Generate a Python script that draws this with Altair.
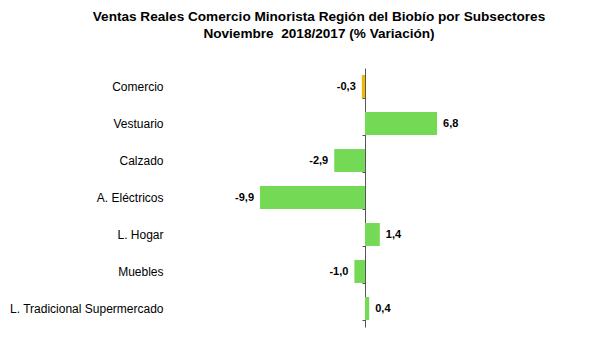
import altair as alt
import pandas as pd

categories = ["Comercio", "Vestuario", "Calzado", "A. Eléctricos", "L. Hogar", "Muebles", "L. Tradicional Supermercado"]
values = [-0.3, 6.8, -2.9, -9.9, 1.4, -1.0, 0.4]
colors = ["#F2B705", "#74DA56", "#74DA56", "#74DA56", "#74DA56", "#74DA56", "#74DA56"]

df = pd.DataFrame({
    "cat": categories,
    "val": values,
    "color": colors,
    "label": [f"{v:.1f}".replace(".", ",") for v in values],
})

FONT = "Liberation Sans"
x_scale = alt.Scale(domain=[-25, 12.74], nice=False, zero=False)
y_enc = alt.Y(
    "cat:N",
    sort=categories,
    scale=alt.Scale(paddingInner=0.38, paddingOuter=0.19),
    axis=alt.Axis(
        title=None,
        offset=-265,
        tickBand="extent",
        tickSize=3,
        tickColor="#555555",
        domainColor="#555555",
        labelPadding=199,
        labelAlign="right",
        labelFont=FONT,
        labelFontSize=12,
        labelColor="black",
        grid=False,
    ),
)

base = alt.Chart(df)

bars = base.mark_bar().encode(
    x=alt.X("val:Q", scale=x_scale, axis=None),
    y=y_enc,
    color=alt.Color("color:N", scale=None),
)

pos_text = base.transform_filter("datum.val >= 0").mark_text(
    align="left", dx=6, font=FONT, fontSize=11, fontWeight="bold", color="black"
).encode(x=alt.X("val:Q", scale=x_scale, axis=None), y=alt.Y("cat:N", sort=categories), text="label:N")

neg_text = base.transform_filter("datum.val < 0").mark_text(
    align="right", dx=-6, font=FONT, fontSize=11, fontWeight="bold", color="black"
).encode(x=alt.X("val:Q", scale=x_scale, axis=None), y=alt.Y("cat:N", sort=categories), text="label:N")

chart = (
    alt.layer(bars, pos_text, neg_text)
    .properties(
        width=400,
        height=259,
        padding={"left": 92, "top": 60, "right": 95, "bottom": 14},
        autosize=alt.AutoSizeParams(type="none"),
        title=alt.TitleParams(
            text=["Ventas Reales Comercio Minorista Región del Biobío por Subsectores", "Noviembre\u00a0 2018/2017 (% Variación)"],
            font=FONT,
            fontSize=13.6,
            fontWeight="bold",
            color="black",
            anchor="middle",
            frame="group",
            offset=21,
            dx=19,
            lineHeight=17,
        ),
    )
    .configure_view(stroke=None)
)

chart.save("out.html", embed_options={"renderer": "svg", "actions": False})
